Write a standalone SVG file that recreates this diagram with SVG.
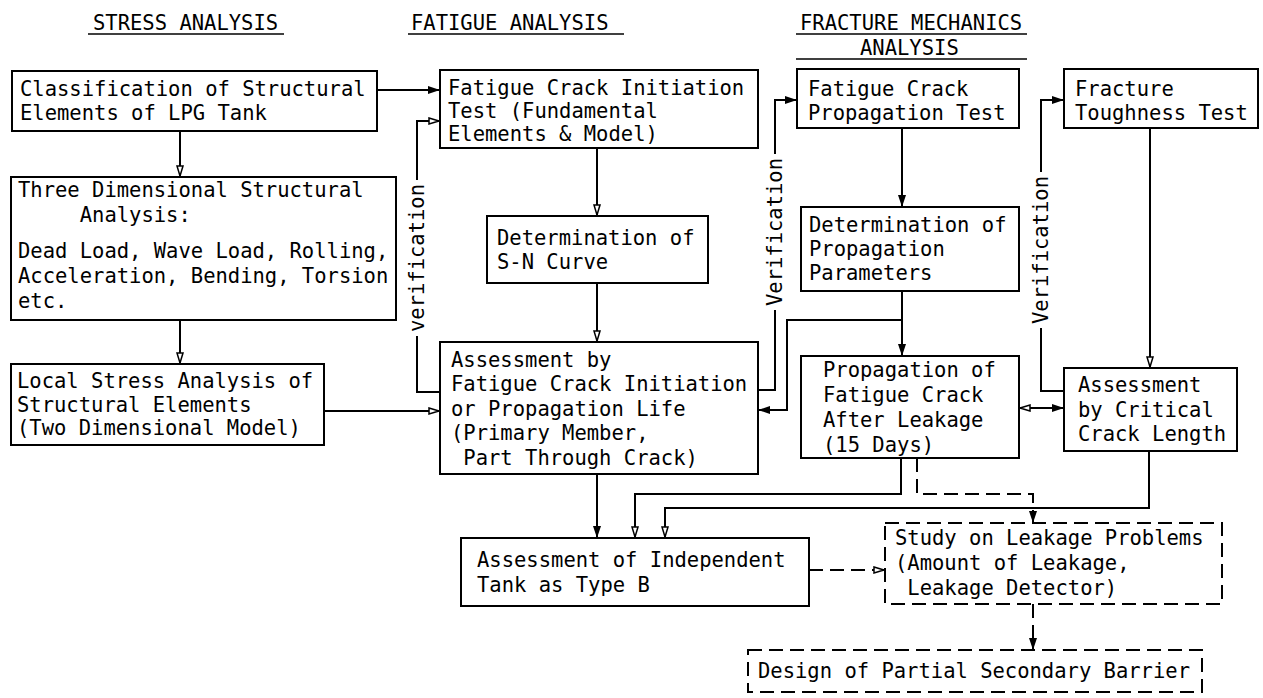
<svg xmlns="http://www.w3.org/2000/svg" width="1263" height="698" viewBox="0 0 1263 698">
<style>
text{font-family:"DejaVu Sans Mono","Liberation Mono",monospace;font-size:20.5px;fill:#000}
.box{fill:none;stroke:#000;stroke-width:2}
.dbox{fill:none;stroke:#000;stroke-width:2;stroke-dasharray:14 7}
.ln{fill:none;stroke:#000;stroke-width:2}
.dl{fill:none;stroke:#000;stroke-width:2;stroke-dasharray:14 7}
.ul{stroke:#000;stroke-width:1.5}
</style>
<defs>
<marker id="af" viewBox="0 0 12 8" refX="12" refY="4" markerWidth="12" markerHeight="8" markerUnits="userSpaceOnUse" orient="auto-start-reverse"><path d="M0,0 L12,4 L0,8 z" fill="#000"/></marker>
<marker id="ao" viewBox="0 0 12 8" refX="12" refY="4" markerWidth="12" markerHeight="8" markerUnits="userSpaceOnUse" orient="auto-start-reverse"><path d="M1,1 L11,4 L1,7 z" fill="#fff" stroke="#000" stroke-width="1.5"/></marker>
</defs>
<rect width="1263" height="698" fill="#fff"/>
<g id="headers">
<text x="93" y="30">STRESS ANALYSIS</text>
<line class="ul" x1="88" y1="34" x2="284" y2="34"/>
<text x="411" y="30">FATIGUE ANALYSIS</text>
<line class="ul" x1="408" y1="34" x2="624" y2="34"/>
<text x="800" y="30">FRACTURE MECHANICS</text>
<line class="ul" x1="796" y1="34" x2="1027" y2="34"/>
<text x="860" y="55">ANALYSIS</text>
<line class="ul" x1="796" y1="59" x2="1027" y2="59"/>
</g>
<g id="connectors">
<path class="ln" d="M377,90 H440" marker-end="url(#af)"/>
<path class="ln" d="M180,131 V177" marker-end="url(#ao)"/>
<path class="ln" d="M180,320 V364" marker-end="url(#ao)"/>
<path class="ln" d="M324,411 H440" marker-end="url(#ao)"/>
<path class="ln" d="M440,392 H417 V336"/>
<path class="ln" d="M417,180 V121 H440" marker-end="url(#ao)"/>
<path class="ln" d="M597,148 V216" marker-end="url(#ao)"/>
<path class="ln" d="M597,283 V342" marker-end="url(#ao)"/>
<path class="ln" d="M597,474 V538" marker-end="url(#af)"/>
<path class="ln" d="M901,458 V494 H635 V538" marker-end="url(#ao)"/>
<path class="ln" d="M1149,451 V508 H665 V538" marker-end="url(#ao)"/>
<path class="dl" d="M917,458 V494 H1033 V523" marker-end="url(#af)"/>
<path class="dl" d="M809,570 H885" marker-end="url(#ao)"/>
<path class="dl" d="M1033,604 V650" marker-end="url(#af)"/>
<path class="ln" d="M902,128 V207" marker-end="url(#af)"/>
<path class="ln" d="M902,291 V356" marker-end="url(#af)"/>
<path class="ln" d="M902,320 H787 V410 H758" marker-end="url(#af)"/>
<path class="ln" d="M758,390 H775 V310"/>
<path class="ln" d="M775,154 V100 H797" marker-end="url(#af)"/>
<path class="ln" d="M1064,391 H1041 V328"/>
<path class="ln" d="M1041,172 V100 H1064" marker-end="url(#af)"/>
<path class="ln" d="M1150,128 V368" marker-end="url(#ao)"/>
<path class="ln" d="M1019,408 H1064" marker-start="url(#ao)" marker-end="url(#af)"/>
<text transform="translate(417,258) rotate(-90)" text-anchor="middle" dominant-baseline="central">verification</text>
<text transform="translate(775,232) rotate(-90)" text-anchor="middle" dominant-baseline="central">Verification</text>
<text transform="translate(1041,250) rotate(-90)" text-anchor="middle" dominant-baseline="central">Verification</text>
</g>
<g id="n-classification">
<rect class="box" x="12" y="71" width="365" height="60"/>
<text x="20" y="96">Classification of Structural</text>
<text x="20" y="120">Elements of LPG Tank</text>
</g>
<g id="n-three-dim">
<rect class="box" x="11" y="177" width="385" height="143"/>
<text x="18" y="197">Three Dimensional Structural</text>
<text x="18" y="222" xml:space="preserve">     Analysis:</text>
<text x="18" y="258">Dead Load, Wave Load, Rolling,</text>
<text x="18" y="283">Acceleration, Bending, Torsion</text>
<text x="18" y="308">etc.</text>
</g>
<g id="n-local-stress">
<rect class="box" x="11" y="364" width="313" height="81"/>
<text x="17" y="388">Local Stress Analysis of</text>
<text x="17" y="412">Structural Elements</text>
<text x="17" y="435">(Two Dimensional Model)</text>
</g>
<g id="n-fatigue-init">
<rect class="box" x="440" y="70" width="318" height="78"/>
<text x="448" y="95">Fatigue Crack Initiation</text>
<text x="448" y="118">Test (Fundamental</text>
<text x="448" y="141">Elements &amp; Model)</text>
</g>
<g id="n-sn">
<rect class="box" x="487" y="216" width="221" height="67"/>
<text x="497" y="245">Determination of</text>
<text x="497" y="269">S-N Curve</text>
</g>
<g id="n-assessment">
<rect class="box" x="440" y="342" width="318" height="132"/>
<text x="451" y="367">Assessment by</text>
<text x="451" y="391">Fatigue Crack Initiation</text>
<text x="451" y="416">or Propagation Life</text>
<text x="451" y="440">(Primary Member,</text>
<text x="451" y="465" xml:space="preserve"> Part Through Crack)</text>
</g>
<g id="n-independent">
<rect class="box" x="461" y="538" width="348" height="68"/>
<text x="477" y="567">Assessment of Independent</text>
<text x="477" y="592">Tank as Type B</text>
</g>
<g id="n-prop-test">
<rect class="box" x="797" y="69" width="222" height="59"/>
<text x="808" y="96">Fatigue Crack</text>
<text x="808" y="120">Propagation Test</text>
</g>
<g id="n-params">
<rect class="box" x="801" y="207" width="218" height="84"/>
<text x="809" y="232">Determination of</text>
<text x="809" y="256">Propagation</text>
<text x="809" y="280">Parameters</text>
</g>
<g id="n-prop-fc">
<rect class="box" x="801" y="356" width="218" height="102"/>
<text x="823" y="377">Propagation of</text>
<text x="823" y="402">Fatigue Crack</text>
<text x="823" y="427">After Leakage</text>
<text x="823" y="452">(15 Days)</text>
</g>
<g id="n-toughness">
<rect class="box" x="1064" y="69" width="194" height="59"/>
<text x="1075" y="96">Fracture</text>
<text x="1075" y="120">Toughness Test</text>
</g>
<g id="n-critical">
<rect class="box" x="1064" y="368" width="173" height="83"/>
<text x="1078" y="392">Assessment</text>
<text x="1078" y="417">by Critical</text>
<text x="1078" y="441">Crack Length</text>
</g>
<g id="n-study">
<rect class="dbox" x="885" y="523" width="337" height="81"/>
<text x="895" y="545">Study on Leakage Problems</text>
<text x="895" y="570">(Amount of Leakage,</text>
<text x="895" y="595" xml:space="preserve"> Leakage Detector)</text>
</g>
<g id="n-barrier">
<rect class="dbox" x="748" y="650" width="454" height="42"/>
<text x="758" y="678">Design of Partial Secondary Barrier</text>
</g>
</svg>
